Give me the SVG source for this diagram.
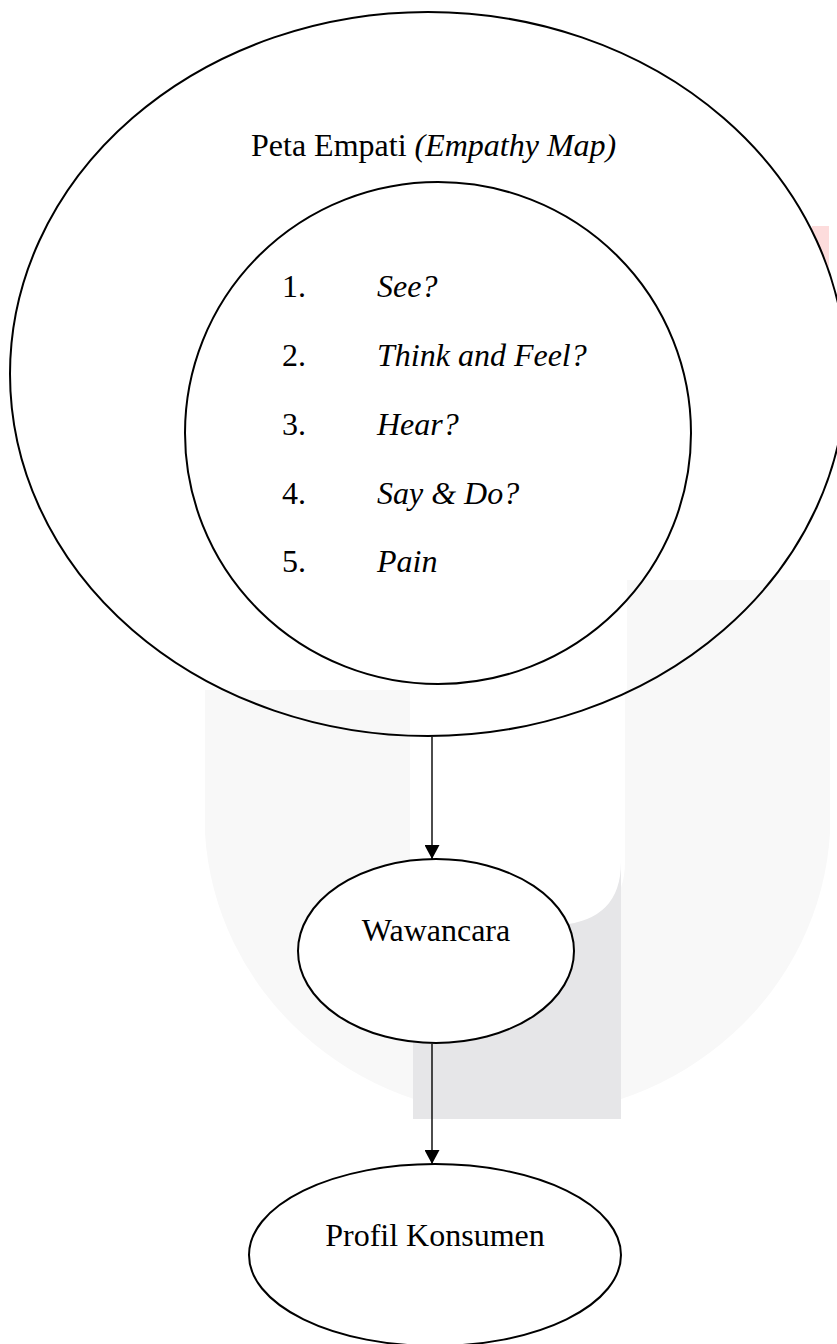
<svg xmlns="http://www.w3.org/2000/svg" width="837" height="1344" viewBox="0 0 837 1344">
  <defs>
    <style>
      .node { fill: none; stroke: #000; stroke-width: 2; }
      .filled { fill: #fff; stroke: #000; stroke-width: 2; }
      .label { font-family: "Liberation Serif", "Times New Roman", serif; font-size: 32px; fill: #000; }
      .it { font-style: italic; }
      .edge { stroke: #000; stroke-width: 1.4; fill: none; marker-end: url(#arrow); }
    </style>
    <marker id="arrow" viewBox="0 0 14 15" refX="14" refY="7.5" markerWidth="14" markerHeight="15" markerUnits="userSpaceOnUse" orient="auto">
      <path d="M0,0 L14,7.5 L0,15 Z" fill="#000"/>
    </marker>
  </defs>
  <rect x="0" y="0" width="837" height="1344" fill="#fff"/>

  <g id="watermark">
    <path d="M205,690 L410,690 L410,925 L560,925 Q625,920 625,862 L625,690 L627,690 L627,580 L830,580 L830,833 A313,300 0 0 1 205,833 Z" fill="#f8f8f8"/>
    <path d="M413,925 L560,925 Q621,920 621,862 L621,1119 L413,1119 Z" fill="#e6e6e8"/>
    <path d="M812,226 L829,226 L829,272 L825.5,262 L819,248 L812,232 Z" fill="#fddcdc"/>
  </g>

  <g id="connectors">
    <line class="edge" x1="432" y1="737" x2="432" y2="859"/>
    <line class="edge" x1="432" y1="1044" x2="432" y2="1164"/>
  </g>

  <g id="node-peta-empati">
    <ellipse class="node" cx="428" cy="374" rx="418" ry="362"/>
    <text class="label" x="251" y="156">Peta Empati <tspan class="it">(Empathy Map)</tspan></text>
  </g>

  <g id="node-list">
    <ellipse class="node" cx="438" cy="433" rx="253" ry="251"/>
    <text class="label" x="282" y="297">1.</text>
    <text class="label it" x="377" y="297">See?</text>
    <text class="label" x="282" y="366">2.</text>
    <text class="label it" x="377" y="366">Think and Feel?</text>
    <text class="label" x="282" y="435">3.</text>
    <text class="label it" x="377" y="435">Hear?</text>
    <text class="label" x="282" y="504">4.</text>
    <text class="label it" x="377" y="504">Say &amp; Do?</text>
    <text class="label" x="282" y="572">5.</text>
    <text class="label it" x="377" y="572">Pain</text>
  </g>

  <g id="node-wawancara">
    <ellipse class="filled" cx="436" cy="951" rx="138" ry="92"/>
    <text class="label" x="436" y="941" text-anchor="middle">Wawancara</text>
  </g>

  <g id="node-profil">
    <ellipse class="filled" cx="435" cy="1255" rx="186" ry="91"/>
    <text class="label" x="435" y="1246" text-anchor="middle">Profil Konsumen</text>
  </g>
</svg>
